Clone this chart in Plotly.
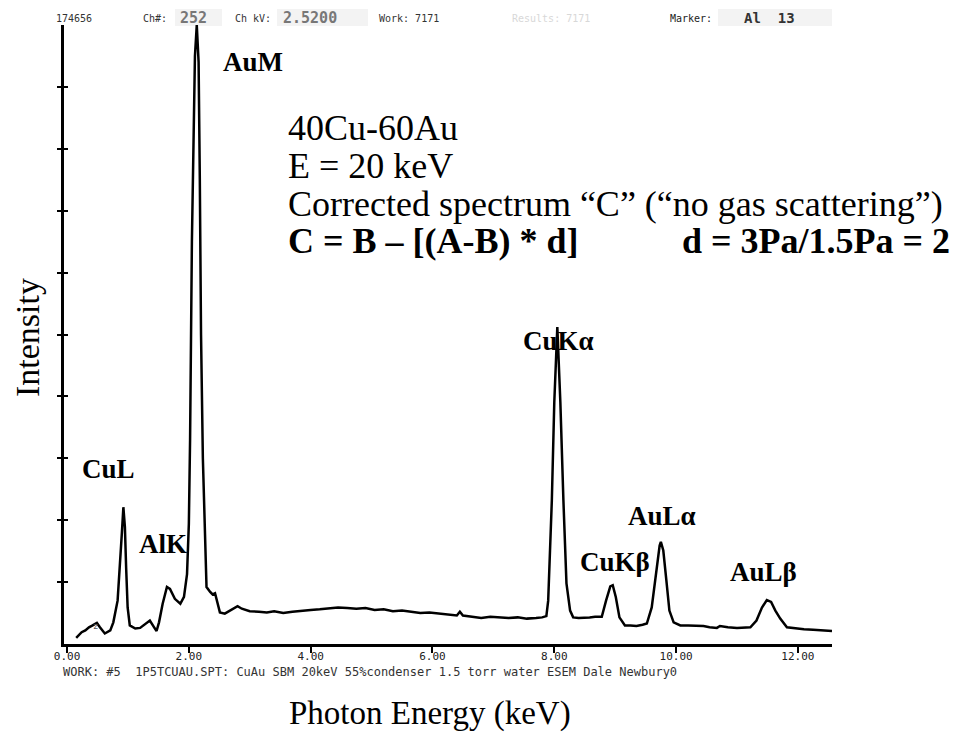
import plotly.graph_objects as go

# ---- data ----
energy_kev = [0.15, 0.20, 0.24, 0.30, 0.36, 0.42, 0.49, 0.54, 0.62, 0.71, 0.76, 0.83, 0.87, 0.90, 0.925,
              0.95, 0.97, 0.995, 1.03, 1.12, 1.20, 1.30, 1.36, 1.43, 1.47, 1.51, 1.57, 1.64, 1.69, 1.77,
              1.86, 1.92, 1.97, 2.00, 2.02, 2.05, 2.07, 2.10, 2.13, 2.16, 2.18, 2.20, 2.23, 2.26, 2.29,
              2.35, 2.39, 2.43, 2.47, 2.51, 2.59, 2.70, 2.80, 2.87, 3.00, 3.15, 3.28, 3.40, 3.55, 3.70,
              3.85, 4.00, 4.15, 4.30, 4.45, 4.60, 4.75, 4.90, 5.05, 5.20, 5.35, 5.50, 5.65, 5.80, 5.95,
              6.10, 6.25, 6.40, 6.45, 6.50, 6.65, 6.80, 6.95, 7.10, 7.25, 7.40, 7.55, 7.70, 7.80, 7.87,
              7.90, 7.96, 8.00, 8.05, 8.10, 8.15, 8.20, 8.26, 8.31, 8.40, 8.48, 8.58, 8.67, 8.78, 8.85,
              8.92, 8.96, 9.01, 9.07, 9.16, 9.25, 9.35, 9.45, 9.52, 9.60, 9.67, 9.73, 9.75, 9.79, 9.84,
              9.89, 9.96, 10.07, 10.20, 10.35, 10.45, 10.55, 10.67, 10.72, 10.85, 11.00, 11.10, 11.22,
              11.32, 11.41, 11.49, 11.56, 11.63, 11.71, 11.82, 11.98, 12.10, 12.25, 12.40, 12.56]
intensity = [0.10, 0.16, 0.19, 0.22, 0.27, 0.30, 0.34, 0.27, 0.17, 0.22, 0.35, 0.70, 1.24, 1.79, 2.21,
             1.89, 1.24, 0.59, 0.30, 0.25, 0.26, 0.34, 0.38, 0.27, 0.21, 0.35, 0.65, 0.92, 0.89, 0.73,
             0.65, 0.76, 1.13, 1.94, 3.29, 6.5, 8.0, 9.5, 10.0, 9.4, 7.5, 5.0, 3.0, 1.7, 0.92,
             0.84, 0.80, 0.82, 0.65, 0.51, 0.49, 0.55, 0.61, 0.57, 0.53, 0.52, 0.51, 0.53, 0.50, 0.52,
             0.54, 0.55, 0.56, 0.57, 0.59, 0.58, 0.57, 0.58, 0.55, 0.56, 0.53, 0.54, 0.52, 0.50, 0.51,
             0.49, 0.48, 0.46, 0.52, 0.46, 0.44, 0.42, 0.44, 0.43, 0.42, 0.43, 0.41, 0.42, 0.43, 0.45,
             0.70, 2.32, 3.9, 5.12, 3.9, 2.32, 0.98, 0.54, 0.43, 0.42, 0.42, 0.43, 0.44, 0.44, 0.70,
             0.93, 0.95, 0.76, 0.43, 0.30, 0.30, 0.29, 0.31, 0.33, 0.59, 1.14, 1.59, 1.65, 1.51, 1.03,
             0.54, 0.35, 0.30, 0.30, 0.29, 0.29, 0.27, 0.26, 0.29, 0.27, 0.26, 0.27, 0.27,
             0.38, 0.59, 0.71, 0.68, 0.54, 0.41, 0.27, 0.25, 0.24, 0.23, 0.22, 0.21]

x_ticks = [0, 2, 4, 6, 8, 10, 12]
y_ticks = [1, 2, 3, 4, 5, 6, 7, 8, 9]

peak_labels = ["AuM", "CuL", "AlK", "CuKα", "AuLα", "CuKβ", "AuLβ"]
info_lines = ["40Cu-60Au", "E = 20 keV", "Corrected spectrum “C” (“no gas scattering”)"]
formula_left = "C = B – [(A-B) * d]"
formula_right = "d = 3Pa/1.5Pa = 2"
footer = "WORK: #5  1P5TCUAU.SPT: CuAu SBM 20keV 55%condenser 1.5 torr water ESEM Dale Newbury0"

# ---- layout geometry (pixels) ----
W, H = 972, 744
L, R, T, B = 64, 140, 25, 100
PW, PH = W - L - R, H - T - B


def px(x):
    return (x - L) / PW


def py(y):
    return (H - B - y) / PH


fig = go.Figure()
fig.add_trace(go.Scatter(x=energy_kev, y=intensity, mode="lines",
                         line=dict(color="black", width=2.5), showlegend=False, hoverinfo="skip"))
# invisible trace for the inside-ticks axis
fig.add_trace(go.Scatter(x=[0], y=[0], yaxis="y2", mode="markers", marker=dict(opacity=0),
                         showlegend=False, hoverinfo="skip"))

mono = "DejaVu Sans Mono"
serif = "Liberation Serif"

fig.update_layout(
    width=W, height=H, margin=dict(l=L, r=R, t=T, b=B),
    paper_bgcolor="white", plot_bgcolor="white",
    xaxis=dict(range=[-0.05, 12.56], showgrid=False, zeroline=False, showline=True,
               linecolor="black", linewidth=2.5, ticks="outside", ticklen=6, tickwidth=2,
               tickcolor="black", tickvals=x_ticks, tickformat=".2f", ticklabelstandoff=-6,
               tickfont=dict(family=mono, size=11, color="#222")),
    yaxis=dict(range=[0, 10], showgrid=False, zeroline=False, showline=True,
               linecolor="black", linewidth=2.5, ticks="outside", ticklen=4, tickwidth=2,
               tickcolor="black", tickvals=y_ticks, showticklabels=False),
    yaxis2=dict(range=[0, 10], overlaying="y", side="left", showgrid=False, zeroline=False,
                showline=False, ticks="inside", ticklen=4, tickwidth=2, tickcolor="black",
                tickvals=y_ticks, showticklabels=False),
)

ann = []


def add_text(text, x, y, family, size, color="black", bold=False, anchor="left"):
    t = f"<b>{text}</b>" if bold else text
    ann.append(dict(text=t, x=px(x), y=py(y), xref="paper", yref="paper", showarrow=False,
                    xanchor=anchor, yanchor="middle", font=dict(family=family, size=size, color=color)))


# peak labels
label_pos = [(221, 62), (80, 469), (137, 544), (521, 341), (626, 516), (578, 562), (728, 572)]
for lab, (lx, ly) in zip(peak_labels, label_pos):
    add_text(lab, lx, ly, serif, 27, bold=True)

# info block
for i, line in enumerate(info_lines):
    add_text(line, 286, 128 + 38 * i, serif, 36)
add_text(formula_left, 286, 241, serif, 36, bold=True)
add_text(formula_right, 680, 241, serif, 36, bold=True)

# axis titles
ann.append(dict(text="Intensity", x=px(27), y=py(338), xref="paper", yref="paper", showarrow=False,
                textangle=-90, xanchor="center", yanchor="middle",
                font=dict(family=serif, size=34, color="black")))
add_text("Photon Energy (keV)", 430, 713, serif, 33, anchor="center")

# header / footer (instrument text)
add_text("174656", 74, 18, mono, 10, color="#333", anchor="center")
add_text("Ch#:", 141, 18, mono, 10, color="#333")
add_text("252", 178, 18, mono, 15, color="#777", bold=True)
add_text("Ch kV:", 233, 18, mono, 10, color="#333")
add_text("2.5200", 281, 18, mono, 15, color="#777", bold=True)
add_text("Work: 7171", 377, 18, mono, 10, color="#333")
add_text("Results: 7171", 510, 18, mono, 10, color="#d8d8d8")
add_text("Marker:", 668, 18, mono, 10, color="#222")
add_text("Al  13", 742, 18, mono, 14, color="#333", bold=True)
add_text(footer, 61, 672, mono, 12, color="#333")
add_text("z", 91, 626, mono, 9, color="#555")

fig.update_layout(annotations=ann)

shapes = []
for x0, x1 in [(175, 222), (277, 368), (718, 832)]:
    shapes.append(dict(type="rect", xref="paper", yref="paper", x0=px(x0), x1=px(x1),
                       y0=py(26), y1=py(9), fillcolor="#f3f3f3", line=dict(width=0), layer="below"))
fig.update_layout(shapes=shapes)

fig.write_html("out.html")
